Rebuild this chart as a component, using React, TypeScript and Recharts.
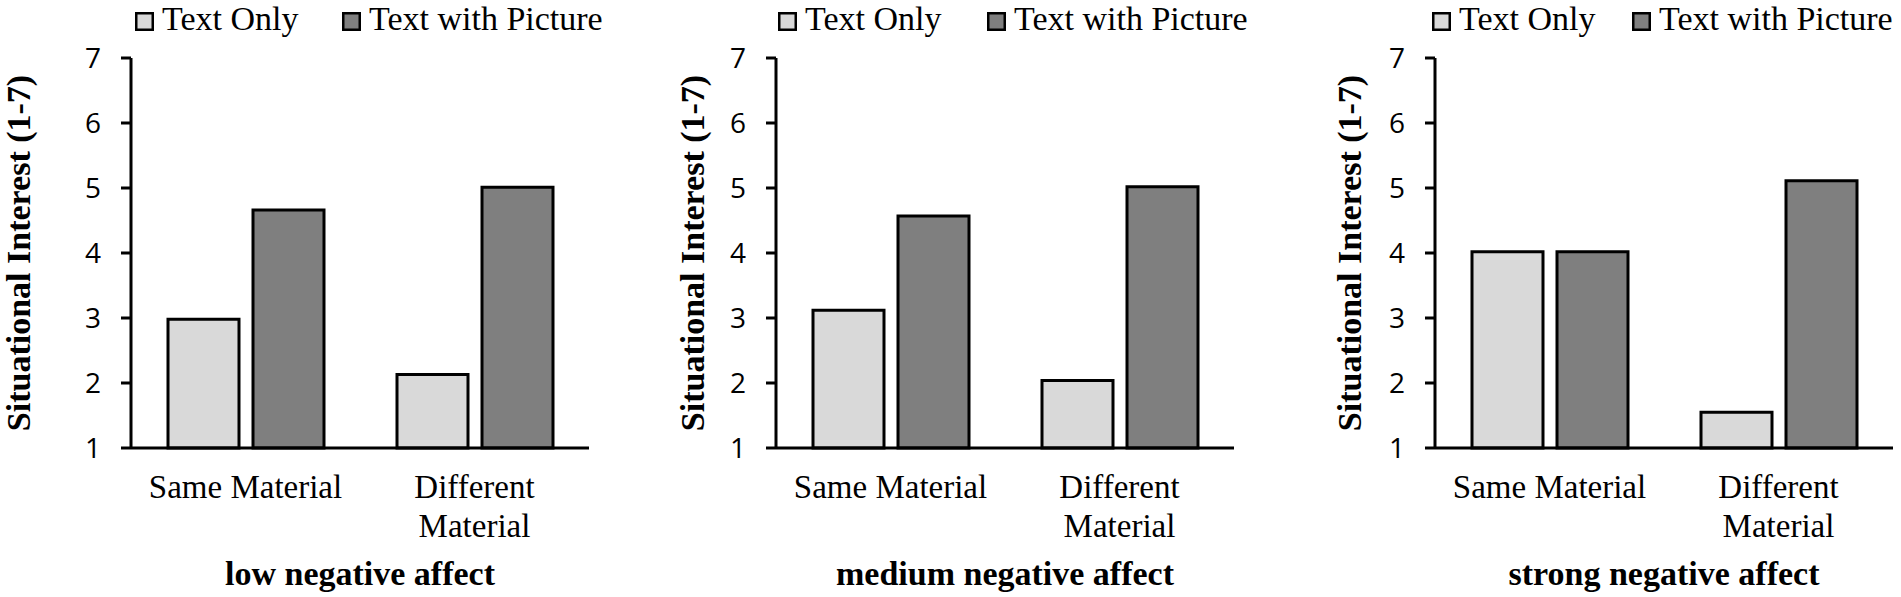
import { Bar, BarChart, Legend, XAxis, YAxis } from 'recharts';

const categories = ['Same Material', 'Different Material'];
const seriesNames = ['Text Only', 'Text with Picture'];
const panelTitles = ['low negative affect', 'medium negative affect', 'strong negative affect'];
const lowAffect = { textOnly: [2.98, 2.13], textWithPicture: [4.66, 5.01] };
const mediumAffect = { textOnly: [3.12, 2.04], textWithPicture: [4.57, 5.02] };
const strongAffect = { textOnly: [4.02, 1.55], textWithPicture: [4.02, 5.11] };
const yTicks = [1, 2, 3, 4, 5, 6, 7];
const yLabel = 'Situational Interest (1-7)';

const panelData = [lowAffect, mediumAffect, strongAffect];
const colors = ['#d9d9d9', '#7f7f7f'];
const serif = "'Liberation Serif', 'Times New Roman', serif";
const sans = "'Open Sans', 'Noto Sans', sans-serif";

const PLOT_W = 458;
const HEIGHT = 597;
const CAT_FONT = 33;

// left: where the chart sits on the page, axisW: y axis width, titleX: offset of the rotated title,
// legendX: where the two legend squares start, relative to the y axis
const panels = [
  { left: 0, width: 600, axisW: 131, titleX: 18, legendX: [4, 211] },
  { left: 640, width: 600, axisW: 136, titleX: 52, legendX: [2, 211] },
  { left: 1290, width: 611, axisW: 145, titleX: 59, legendX: [-3, 197] },
];

export default function App() {
  return (
    <div style={{ position: 'absolute', left: 0, top: 0, width: 1901, height: HEIGHT, background: '#fff' }}>
      {panels.map((p, k) => (
        <div key={k} style={{ position: 'absolute', left: p.left, top: 0 }}>
          <Panel index={k} {...p} />
        </div>
      ))}
    </div>
  );
}

function Panel({ index, width, axisW, titleX, legendX }: { index: number; width: number; axisW: number; titleX: number; legendX: number[] }) {
  const values = panelData[index];
  const data = categories.map((c, i) => ({
    category: c,
    textOnly: values.textOnly[i],
    textWithPicture: values.textWithPicture[i],
  }));

  return (
    <BarChart
      width={width}
      height={HEIGHT}
      data={data}
      margin={{ top: 5, right: width - axisW - PLOT_W, bottom: 0, left: 0 }}
      barCategoryGap={37}
      barGap={14}
    >
      <Legend
        verticalAlign="top"
        align="left"
        content={() => <LegendBox x={axisW} offsets={legendX} />}
      />
      <XAxis
        dataKey="category"
        height={149}
        interval={0}
        tickLine={false}
        tickSize={0}
        tickMargin={0}
        axisLine={{ stroke: '#000', strokeWidth: 3 }}
        tick={(props: any) => <CategoryTick {...props} />}
        label={{
          value: panelTitles[index],
          position: 'insideBottom',
          offset: 12,
          style: { fontFamily: serif, fontWeight: 'bold', fontSize: 34, fill: '#000' },
        }}
      />
      <YAxis
        type="number"
        domain={[1, 7]}
        ticks={yTicks}
        interval={0}
        width={axisW}
        tickSize={10}
        tickMargin={20}
        axisLine={{ stroke: '#000', strokeWidth: 3 }}
        tickLine={{ stroke: '#000', strokeWidth: 3 }}
        tick={{ fill: '#000', fontSize: 28, fontFamily: sans }}
        label={{
          value: yLabel,
          angle: -90,
          position: 'insideLeft',
          offset: titleX,
          style: { textAnchor: 'middle', fontFamily: serif, fontWeight: 'bold', fontSize: 34, fill: '#000' },
        }}
      />
      <Bar dataKey="textOnly" name={seriesNames[0]} fill={colors[0]} stroke="#000" strokeWidth={3} isAnimationActive={false} />
      <Bar dataKey="textWithPicture" name={seriesNames[1]} fill={colors[1]} stroke="#000" strokeWidth={3} isAnimationActive={false} />
    </BarChart>
  );
}

function LegendBox({ x, offsets }: { x: number; offsets: number[] }) {
  return (
    <svg width={600} height={53} style={{ display: 'block', overflow: 'visible' }}>
      {seriesNames.map((name, i) => (
        <g key={name}>
          <rect x={x + offsets[i] + 1.25} y={8.25} width={16.5} height={16.5} fill={colors[i]} stroke="#000" strokeWidth={2.5} />
          <text x={x + offsets[i] + 27} y={25} fontFamily={serif} fontSize={34} fill="#000">
            {name}
          </text>
        </g>
      ))}
    </svg>
  );
}

// break a category name into lines that fit the band, like the spreadsheet did
function wrapLabel(label: string, maxWidth: number): string[] {
  const ctx = document.createElement('canvas').getContext('2d');
  if (!ctx) return [label];
  ctx.font = `${CAT_FONT}px ${serif}`;
  const lines: string[] = [];
  let line = '';
  for (const word of label.split(' ')) {
    const next = line ? `${line} ${word}` : word;
    if (line && ctx.measureText(next).width > maxWidth) {
      lines.push(line);
      line = word;
    } else {
      line = next;
    }
  }
  if (line) lines.push(line);
  return lines;
}

function CategoryTick({ x, y, payload }: any) {
  const lines = wrapLabel(String(payload.value), 220);
  return (
    <text x={x} y={y + 50} textAnchor="middle" fontFamily={serif} fontSize={CAT_FONT} fill="#000">
      {lines.map((l, i) => (
        <tspan key={i} x={x} dy={i === 0 ? 0 : 39}>
          {l}
        </tspan>
      ))}
    </text>
  );
}
